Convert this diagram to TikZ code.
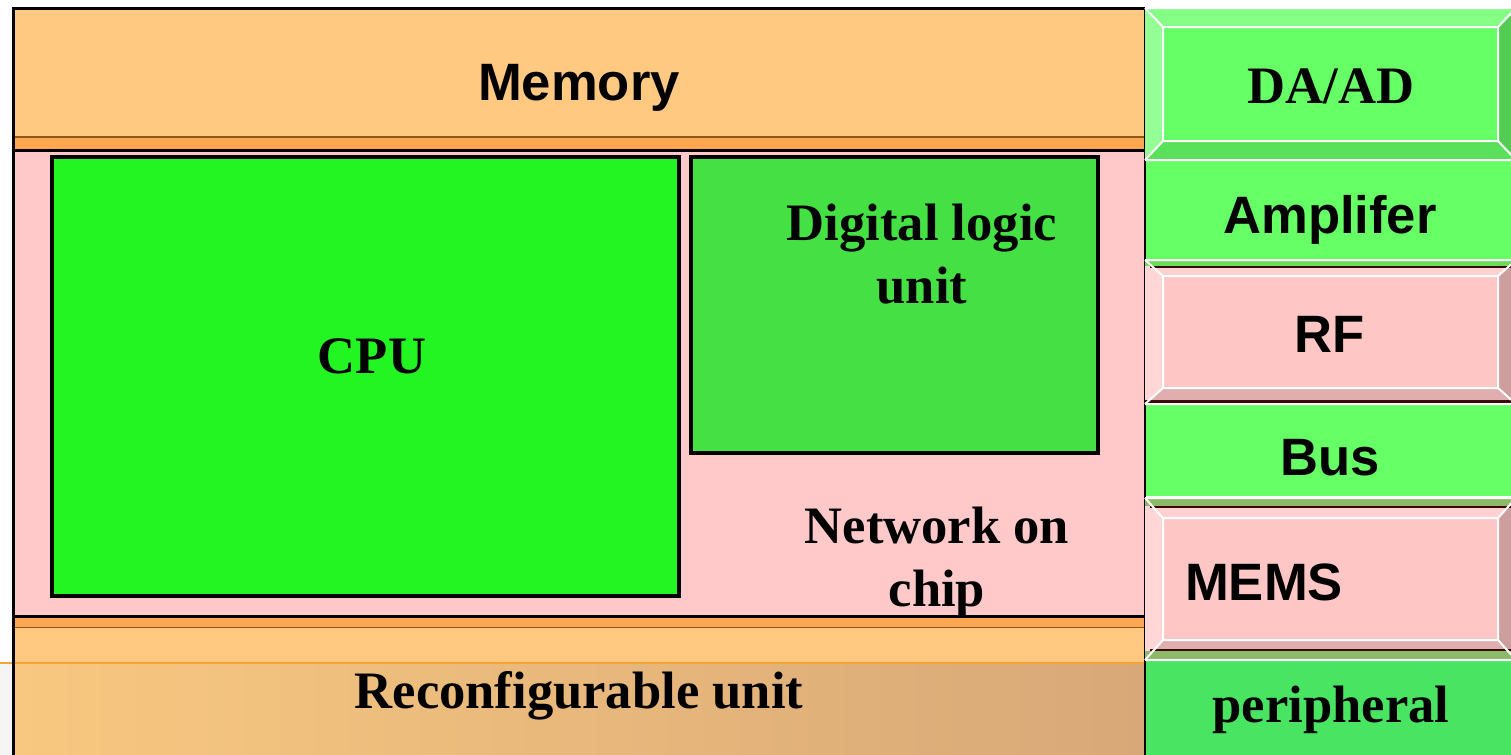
\documentclass[tikz,border=0pt]{standalone}
\usepackage{fontspec}
\setmainfont{Liberation Serif}
\setsansfont{Liberation Sans}
\definecolor{memc}{HTML}{FFC982}
\definecolor{stripc}{HTML}{FFA652}
\definecolor{brownl}{HTML}{8A5A18}
\definecolor{pinkc}{HTML}{FFC9C9}
\definecolor{cpuc}{HTML}{22F522}
\definecolor{dluc}{HTML}{44E044}
\definecolor{bgreen}{HTML}{66FF66}
\definecolor{bpink}{HTML}{FFC6C6}
\definecolor{perc}{HTML}{48E462}
\definecolor{darkl}{HTML}{3A0808}
\definecolor{tanl}{HTML}{F8C880}
\definecolor{tanr}{HTML}{D8A878}
\definecolor{oline}{HTML}{F5A535}
\definecolor{oliveband}{HTML}{8CBA6A}
\definecolor{greenband}{HTML}{6ADC5A}
\newcommand\bevbox[7]{%
  \fill[#6] (#1,#2) rectangle (#3,#4);
  \fill[#6!80!white] (#1,#2) -- (#3,#2) -- (#3-18,#2+#5) -- (#1+18,#2+#5) -- cycle;
  \fill[#6!70!white] (#1,#2) -- (#1+18,#2+#5) -- (#1+18,#4-#5) -- (#1,#4) -- cycle;
  \fill[#6!88!black] (#1,#4) -- (#1+18,#4-#5) -- (#3-18,#4-#5) -- (#3,#4) -- cycle;
  \fill[#6!80!black] (#3,#2) -- (#3,#4) -- (#3-18,#4-#5) -- (#3-18,#2+#5) -- cycle;
  #7
  \draw[white, line width=1pt] (#1+18,#2+#5) rectangle (#3-18,#4-#5)
    (#1,#2) -- (#1+18,#2+#5) (#3,#2) -- (#3-18,#2+#5)
    (#1,#4) -- (#1+18,#4-#5) (#3,#4) -- (#3-18,#4-#5)
    (#1,#2) -- (#3,#2) (#1,#4) -- (#3,#4);
}
\tikzset{
  serlab/.style={font=\fontsize{26.3}{30}\selectfont\bfseries, inner sep=0pt, anchor=base},
  sanlab/.style={font=\fontsize{26.3}{30}\selectfont\sffamily\bfseries, inner sep=0pt, anchor=base},
  blockbox/.style={draw=black, line width=1.6pt},
}
\begin{document}
\begin{tikzpicture}[x=0.5pt,y=-0.5pt]
\useasboundingbox (0,0) rectangle (1511,755);
\fill[white] (0,0) rectangle (1511,755);
\fill[black!4] (0,663) rectangle (13,755);
% left main block
\fill[memc] (13,8) rectangle (1145,137);
\fill[stripc] (13,137) rectangle (1145,150);
\draw[brownl, line width=1.1pt] (13,137) -- (1145,137);
\fill[pinkc] (13,150) rectangle (1145,616);
\fill[stripc] (13,616) rectangle (1145,628);
\draw[brownl, line width=1.1pt] (13,628) -- (1145,628);
\fill[memc] (13,628) rectangle (1145,662);
\shade[left color=tanl, right color=tanr] (13,663) rectangle (1145,755);
\draw[oline, line width=1.3pt] (0,663) -- (1145,663);
\draw[black, line width=1.5pt] (13,150) -- (1145,150) (13,616) -- (1145,616);
\draw[black, line width=1.5pt] (13,755) -- (13,8) -- (1145,8) -- (1145,755);
\draw[blockbox, fill=cpuc] (52,157) rectangle (679,596);
\draw[blockbox, fill=dluc] (691,157) rectangle (1098,453);
% right column
\fill[bgreen] (1146,160) rectangle (1516,260);
\fill[bgreen] (1146,404) rectangle (1516,497);
\fill[perc] (1146,660) rectangle (1516,755);
\draw[white, line width=1pt] (1146,404) -- (1516,404) (1146,497) -- (1516,497) (1146,660) -- (1516,660);
\bevbox{1145}{8}{1516}{160}{19}{bgreen}{}
\bevbox{1145}{260}{1516}{404}{16}{bpink}{%
  \fill[greenband] (1145,260) rectangle (1516,266);
  \draw[darkl, line width=1.2pt] (1150,267) -- (1516,267) (1145,401.5) -- (1516,401.5);}
\bevbox{1145}{498}{1516}{660}{20}{bpink}{%
  \fill[oliveband] (1145,498) rectangle (1516,506);
  \fill[oliveband] (1145,651) rectangle (1516,660);
  \draw[darkl, line width=1.2pt] (1150,507) -- (1516,507) (1150,650) -- (1516,650);}
% labels
\node[sanlab] (mem) at (579,100) {Memory};
\node[serlab] (cpu) at (372,373) {CPU};
\node[serlab] (dlu1) at (922,240) {Digital logic};
\node[serlab] (dlu2) at (922,303) {unit};
\node[serlab] (noc1) at (937,543) {Network on};
\node[serlab] (noc2) at (937,606) {chip};
\node[serlab] (rcu) at (579,708) {Reconfigurable unit};
\node[serlab] (daad) at (1331,103) {DA/AD};
\node[sanlab] (amp) at (1330,233) {Amplifer};
\node[sanlab] (rf) at (1330,352) {RF};
\node[sanlab] (bus) at (1330,475) {Bus};
\node[sanlab] (mems) at (1264,600) {MEMS};
\node[serlab] (per) at (1331,722) {peripheral};
\end{tikzpicture}
\end{document}
